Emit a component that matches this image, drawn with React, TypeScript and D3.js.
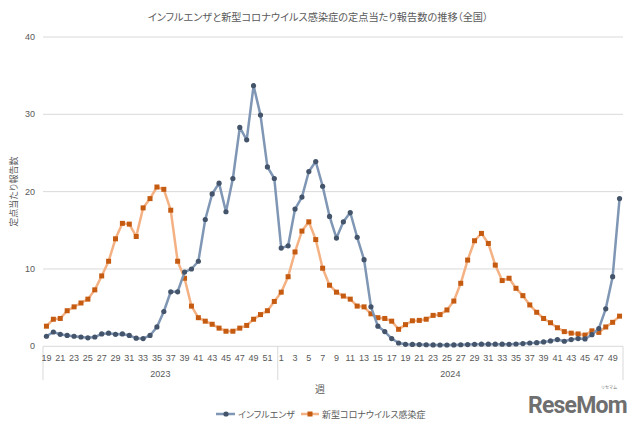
import React from "react";
import * as d3 from "d3";

const title = "インフルエンザと新型コロナウイルス感染症の定点当たり報告数の推移（全国）";
const yTitle = "定点当たり報告数";
const xTitle = "週";
const seriesNames = ["インフルエンザ", "新型コロナウイルス感染症"];

const years = ["2023", "2024"];
const weeks2023 = [19, 20, 21, 22, 23, 24, 25, 26, 27, 28, 29, 30, 31, 32, 33, 34, 35, 36, 37, 38, 39, 40, 41, 42, 43, 44, 45, 46, 47, 48, 49, 50, 51, 52];
const weeks2024 = [1, 2, 3, 4, 5, 6, 7, 8, 9, 10, 11, 12, 13, 14, 15, 16, 17, 18, 19, 20, 21, 22, 23, 24, 25, 26, 27, 28, 29, 30, 31, 32, 33, 34, 35, 36, 37, 38, 39, 40, 41, 42, 43, 44, 45, 46, 47, 48, 49, 50];

const influenza = [
  1.3, 1.85, 1.55, 1.4, 1.3, 1.2, 1.1, 1.2, 1.6, 1.7, 1.55, 1.6, 1.4, 1.05, 1.0, 1.4, 2.5, 4.5, 7.05, 7.05,
  9.6, 10.0, 11.0, 16.4, 19.7, 21.1, 17.4, 21.7, 28.3, 26.7, 33.7, 29.9, 23.2, 21.7,
  12.7, 13.0, 17.75, 19.3, 22.6, 23.9, 20.7, 16.8, 14.0, 16.1, 17.3, 14.1, 11.2, 5.1, 2.6, 1.9, 1.0, 0.43,
  0.26, 0.24, 0.22, 0.2, 0.18, 0.17, 0.17, 0.18, 0.2, 0.22, 0.25, 0.27, 0.28, 0.28, 0.27, 0.26, 0.3, 0.35,
  0.43, 0.47, 0.56, 0.69, 0.87, 0.65, 0.87, 1.0, 0.96, 1.5, 2.3, 4.85, 9.0, 19.1,
];

const covid = [
  2.6, 3.5, 3.6, 4.6, 5.1, 5.6, 6.1, 7.3, 9.1, 11.0, 13.9, 15.9, 15.8, 14.2, 17.9, 19.1, 20.6, 20.3, 17.6, 11.0,
  8.8, 5.2, 3.7, 3.25, 2.85, 2.35, 1.95, 1.95, 2.35, 2.7, 3.5, 4.1, 4.6, 5.8,
  7.0, 9.0, 12.2, 14.9, 16.1, 13.8, 10.1, 7.9, 7.0, 6.5, 6.1, 5.2, 5.1, 4.2, 3.7, 3.6, 3.25, 2.2, 2.8, 3.3,
  3.35, 3.5, 4.0, 4.1, 4.7, 5.85, 8.15, 11.15, 13.65, 14.6, 13.3, 10.5, 8.5, 8.8, 7.5, 6.55, 5.35, 4.4, 3.6, 3.05,
  2.4, 1.9, 1.7, 1.6, 1.45, 2.0, 1.8, 2.5, 3.1, 3.9,
];

const yTicks = [0, 10, 20, 30, 40];

const W = 640;
const H = 426;
const left = 43;
const right = 623;
const top = 37;
const bottom = 346.3;

const textColor = "#595959";
const gridColor = "#d9d9d9";
const fluLine = "#7f96b4";
const fluMark = "#44546a";
const covLine = "#f4b183";
const covMark = "#c55a11";
const jp = "'Noto Sans CJK JP', 'Noto Sans', sans-serif";
const num = "'Liberation Sans', 'Noto Sans', sans-serif";

type Cat = { key: string; year: string; week: number };

export default function App() {
  const cats: Cat[] = [
    ...weeks2023.map((w) => ({ key: `2023-${w}`, year: years[0], week: w })),
    ...weeks2024.map((w) => ({ key: `2024-${w}`, year: years[1], week: w })),
  ];
  const x = d3.scaleBand<string>().domain(cats.map((c) => c.key)).range([left, right]).padding(0);
  const y = d3.scaleLinear().domain([0, 40]).range([bottom, top]);
  const cx = (i: number) => (x(cats[i].key) as number) + x.bandwidth() / 2;

  const line = d3
    .line<number>()
    .x((_, i) => cx(i))
    .y((d) => y(d));

  const yearStart = x(cats[weeks2023.length].key) as number;
  const yearMid2023 = (left + yearStart) / 2;
  const yearMid2024 = (yearStart + right) / 2;

  return (
    <svg width={W} height={H} style={{ position: "absolute", left: 0, top: 0, background: "#fff" }}>
      <rect x={0} y={0} width={W} height={H} fill="#fff" />
      <text x={318} y={21} textAnchor="middle" fontFamily={jp} fontSize={10.2} fill={textColor} style={{ fontFeatureSettings: "'palt'" }}>
        {title}
      </text>
      {yTicks.map((t) => (
        <g key={t}>
          {t > 0 && <line x1={left} x2={right} y1={y(t)} y2={y(t)} stroke={gridColor} strokeWidth={1} />}
          <text x={35} y={y(t) + 3} textAnchor="end" fontFamily={num} fontSize={9} fill={textColor}>
            {t}
          </text>
        </g>
      ))}
      <line x1={left} x2={right} y1={bottom} y2={bottom} stroke={gridColor} strokeWidth={1} />
      {[left, yearStart, right].map((vx, i) => (
        <line key={i} x1={vx} x2={vx} y1={bottom} y2={380} stroke={gridColor} strokeWidth={1} />
      ))}
      {cats.map((c, i) =>
        i % 2 === 0 ? (
          <text key={c.key} x={cx(i)} y={361} textAnchor="middle" fontFamily={num} fontSize={9} fill={textColor}>
            {c.week}
          </text>
        ) : null
      )}
      <text x={yearMid2023} y={377} textAnchor="middle" fontFamily={num} fontSize={9} fill={textColor}>
        {years[0]}
      </text>
      <text x={yearMid2024} y={377} textAnchor="middle" fontFamily={num} fontSize={9} fill={textColor}>
        {years[1]}
      </text>
      <text x={320} y={393} textAnchor="middle" fontFamily={jp} fontSize={10} fill={textColor}>
        {xTitle}
      </text>
      <text
        transform={`translate(17, ${(top + bottom) / 2}) rotate(-90)`}
        textAnchor="middle"
        fontFamily={jp}
        fontSize={9}
        fill={textColor}
        style={{ fontFeatureSettings: "'palt'" }}
      >
        {yTitle}
      </text>

      <path d={line(covid) ?? ""} fill="none" stroke={covLine} strokeWidth={2.5} strokeLinejoin="round" />
      {covid.map((v, i) => (
        <rect key={i} x={cx(i) - 2.5} y={y(v) - 2.5} width={5} height={5} fill={covMark} />
      ))}
      <path d={line(influenza) ?? ""} fill="none" stroke={fluLine} strokeWidth={2.5} strokeLinejoin="round" />
      {influenza.map((v, i) => (
        <circle key={i} cx={cx(i)} cy={y(v)} r={2.6} fill={fluMark} />
      ))}

      <g>
        <line x1={216} x2={235} y1={414} y2={414} stroke={fluLine} strokeWidth={2.5} />
        <circle cx={226} cy={414} r={2.6} fill={fluMark} />
        <text x={238} y={417.5} fontFamily={jp} fontSize={9} fill={textColor} style={{ fontFeatureSettings: "'palt'" }}>
          {seriesNames[0]}
        </text>
        <line x1={301} x2={319} y1={414} y2={414} stroke={covLine} strokeWidth={2.5} />
        <rect x={307.5} y={411.5} width={5} height={5} fill={covMark} />
        <text x={322} y={417.5} fontFamily={jp} fontSize={9} fill={textColor} style={{ fontFeatureSettings: "'palt'" }}>
          {seriesNames[1]}
        </text>
      </g>

      <g>
        <text x={528} y={413} fontFamily="Roboto, 'Liberation Sans', sans-serif" fontWeight={700} fontSize={23} fill="#6f6f6f" letterSpacing={-0.8}>
          ReseMom
        </text>
        <text x={609} y={389} textAnchor="middle" fontFamily={jp} fontSize={4} fill="#6f6f6f">
          リセマム
        </text>
      </g>
    </svg>
  );
}
